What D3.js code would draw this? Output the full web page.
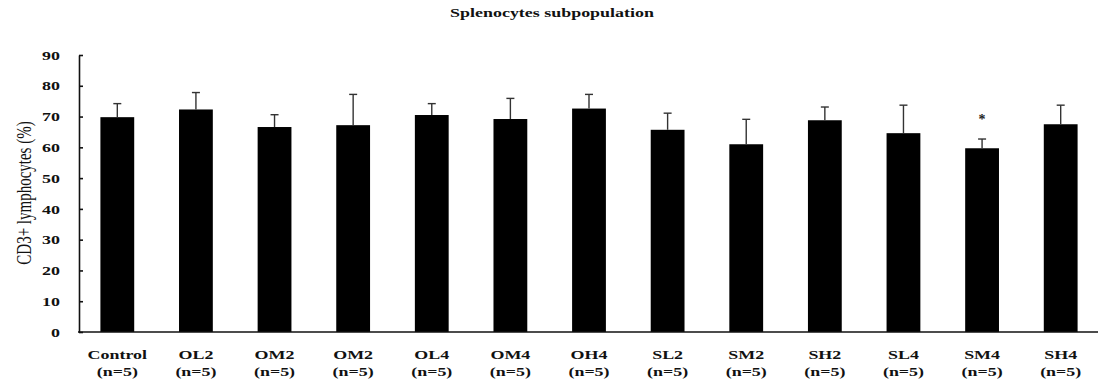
<!DOCTYPE html>
<html>
<head>
<meta charset="utf-8">
<script src="https://cdn.jsdelivr.net/npm/d3@7"></script>
<style>
  html, body { margin: 0; padding: 0; background: #fff; }
  svg { display: block; }
</style>
</head>
<body>
<svg id="chart" width="1098" height="388"></svg>
<script>
// Group names and sample sizes
const groups = ["Control", "OL2", "OM2", "OM2", "OL4", "OM4", "OH4", "SL2", "SM2", "SH2", "SL4", "SM4", "SH4"];
const sampleSizes = ["(n=5)", "(n=5)", "(n=5)", "(n=5)", "(n=5)", "(n=5)", "(n=5)", "(n=5)", "(n=5)", "(n=5)", "(n=5)", "(n=5)", "(n=5)"];
// Mean CD3+ lymphocytes (%) and standard deviation per group
const means = [69.8, 72.3, 66.6, 67.2, 70.5, 69.2, 72.6, 65.7, 61.0, 68.8, 64.6, 59.7, 67.5];
const sds   = [4.4, 5.5, 4.0, 10.0, 3.7, 6.7, 4.6, 5.4, 8.1, 4.3, 9.1, 3.0, 6.2];
// Groups flagged as significantly different
const significant = [false, false, false, false, false, false, false, false, false, false, false, true, false];
const yTicks = [0, 10, 20, 30, 40, 50, 60, 70, 80, 90];

const titleText = "Splenocytes subpopulation";
const yTitle = "CD3+ lymphocytes (%)";

const svg = d3.select("#chart");
const serif = "'Liberation Serif', 'Times New Roman', serif";
const stretch = 1.38; // horizontal stretch applied to all lettering

const x = d3.scaleBand()
  .domain(d3.range(groups.length))
  .range([78, 1100])
  .paddingInner(0.57)
  .paddingOuter(0.285);

const y = d3.scaleLinear().domain([0, 90]).range([332, 55]);

// Title
svg.append("text")
  .attr("transform", `translate(552,17) scale(${stretch},1)`)
  .attr("text-anchor", "middle")
  .attr("font-family", serif)
  .attr("font-weight", "bold")
  .attr("font-size", 13)
  .attr("fill", "#111")
  .text(titleText);

// Y axis
const yAxis = svg.append("g")
  .attr("transform", "translate(79,0)")
  .call(d3.axisLeft(y).tickValues(yTicks).tickSizeInner(-4).tickSizeOuter(0).tickPadding(0));
yAxis.select(".domain").attr("stroke", "#111").attr("stroke-width", 1.6);
yAxis.selectAll(".tick line").attr("stroke", "#111").attr("stroke-width", 1.6);
yAxis.selectAll(".tick text")
  .attr("x", 0)
  .attr("transform", `translate(-19,0) scale(${stretch},1)`)
  .attr("text-anchor", "end")
  .attr("font-family", serif)
  .attr("font-weight", "bold")
  .attr("font-size", 13)
  .attr("fill", "#111");

// Y axis title
svg.append("text")
  .attr("transform", `translate(31,193) scale(${stretch},1) rotate(-90)`)
  .attr("text-anchor", "middle")
  .attr("font-family", serif)
  .attr("font-size", 15)
  .attr("fill", "#111")
  .text(yTitle);

// Bars
svg.append("g")
  .selectAll("rect")
  .data(means)
  .join("rect")
  .attr("x", (d, i) => x(i))
  .attr("width", x.bandwidth())
  .attr("y", d => y(d))
  .attr("height", d => y(0) - y(d))
  .attr("fill", "#000");

// Upper error bars
const err = svg.append("g").attr("stroke", "#333").attr("stroke-width", 1.4);
means.forEach((m, i) => {
  const cx = x(i) + x.bandwidth() / 2;
  err.append("line").attr("x1", cx).attr("x2", cx).attr("y1", y(m)).attr("y2", y(m + sds[i]));
  err.append("line").attr("x1", cx - 4).attr("x2", cx + 4).attr("y1", y(m + sds[i])).attr("y2", y(m + sds[i]));
});

// Significance markers
svg.append("g")
  .selectAll("text")
  .data(means.map((m, i) => ({ m, i })).filter(d => significant[d.i]))
  .join("text")
  .attr("x", d => x(d.i) + x.bandwidth() / 2)
  .attr("y", d => y(d.m + sds[d.i]) - 15)
  .attr("text-anchor", "middle")
  .attr("font-family", serif)
  .attr("font-weight", "bold")
  .attr("font-size", 14)
  .attr("fill", "#222")
  .text("*");

// X axis baseline
svg.append("line")
  .attr("x1", 78).attr("x2", 1098)
  .attr("y1", y(0)).attr("y2", y(0))
  .attr("stroke", "#111").attr("stroke-width", 1.6);

// Group labels
const labels = svg.append("g")
  .attr("font-family", serif)
  .attr("font-weight", "bold")
  .attr("font-size", 13)
  .attr("fill", "#111")
  .attr("text-anchor", "middle");
groups.forEach((g, i) => {
  const cx = x(i) + x.bandwidth() / 2;
  labels.append("text")
    .attr("transform", `translate(${cx},359) scale(${stretch},1)`)
    .text(g);
  labels.append("text")
    .attr("transform", `translate(${cx},376) scale(${stretch},1)`)
    .text(sampleSizes[i]);
});
</script>
</body>
</html>
